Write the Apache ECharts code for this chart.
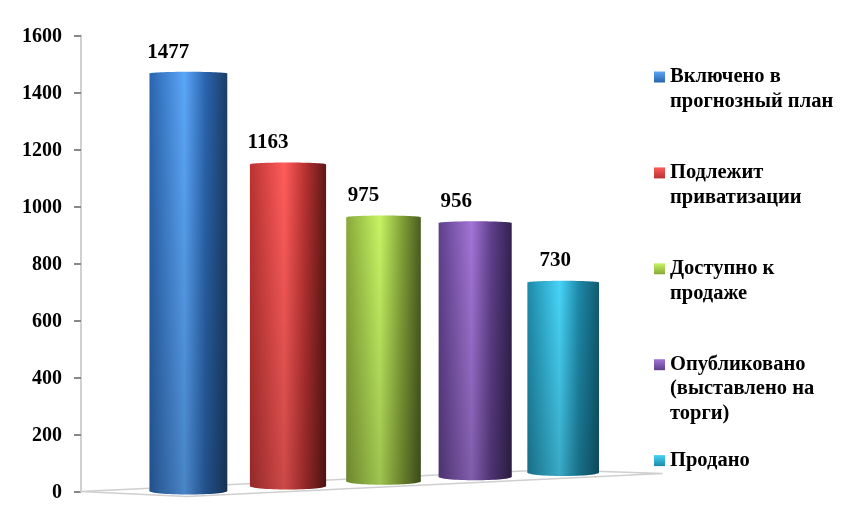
<!DOCTYPE html>
<html>
<head>
<meta charset="utf-8">
<style>
  html, body { margin: 0; padding: 0; background: #fff; }
  #chart { width: 854px; height: 522px; }
</style>
<script src="https://cdn.jsdelivr.net/npm/echarts@6/dist/echarts.min.js"></script>
</head>
<body>
<div id="chart"></div>
<script>
const categories = [
  'Включено в\nпрогнозный план',
  'Подлежит\nприватизации',
  'Доступно к\nпродаже',
  'Опубликовано\n(выставлено на\nторги)',
  'Продано'
]
const values = [1477, 1163, 975, 956, 730]
const yTicks = [0, 200, 400, 600, 800, 1000, 1200, 1400, 1600]

// cylinder shades: left edge, highlight, right edge
const shades = [
  ['#2a64ad', '#5ba6f8', '#1b3d66'],
  ['#b93232', '#ff5c5a', '#5e1716'],
  ['#88a83a', '#c6f463', '#4a5c20'],
  ['#5f3f8b', '#a274d6', '#33224f'],
  ['#1d89a8', '#47d4f8', '#115a70']
]

// the original is a 3D chart, so bars sit deeper as they go right
const vanishX = 358
const vanishY = 256
const perspective = 0.0217
const barDrop = 1.5
const labelShift = [-20, -20, -20, -19, -8]
const font = '"Liberation Serif", "Times New Roman", serif'

function project(api, x, v, depth) {
  const p = api.coord([x, v])
  const s = 1 / (1 + perspective * depth)
  return [vanishX + (p[0] - vanishX) * s, vanishY + (p[1] - vanishY) * s, s]
}

function cylinderFill(c) {
  return {
    type: 'linear', x: 0, y: 0, x2: 1, y2: 0,
    colorStops: [
      { offset: 0, color: c[0] },
      { offset: 0.45, color: c[1] },
      { offset: 0.72, color: c[0] },
      { offset: 1, color: c[2] }
    ]
  }
}

function renderBar(params, api) {
  const i = api.value(0)
  const top = project(api, i, api.value(1), i + 0.4)
  const base = project(api, i, 0, i + 0.4)
  const half = api.size([1, 0])[0] * 0.793 * base[2] / 2
  const topY = top[1] + barDrop
  const baseY = base[1] + barDrop
  const fill = cylinderFill(shades[i])
  const shadow = {
    type: 'linear', x: 0, y: 0, x2: 0, y2: 1,
    colorStops: [
      { offset: 0, color: 'rgba(0,0,0,0)' },
      { offset: 1, color: 'rgba(0,0,0,0.2)' }
    ]
  }
  return {
    type: 'group',
    children: [
      { type: 'ellipse', shape: { cx: base[0], cy: baseY, rx: half, ry: 3.5 }, style: { fill: fill } },
      { type: 'ellipse', shape: { cx: base[0], cy: baseY, rx: half, ry: 3.5 }, style: { fill: 'rgba(0,0,0,0.2)' } },
      { type: 'rect', shape: { x: top[0] - half, y: topY, width: half * 2, height: baseY - topY }, style: { fill: fill } },
      { type: 'rect', shape: { x: top[0] - half, y: topY, width: half * 2, height: baseY - topY }, style: { fill: shadow } },
      { type: 'ellipse', shape: { cx: top[0], cy: topY, rx: half, ry: 1.8 }, style: { fill: fill } },
      {
        type: 'text',
        style: {
          text: String(api.value(1)),
          x: top[0] + labelShift[i],
          y: topY - 21.5,
          align: 'center',
          verticalAlign: 'middle',
          fill: '#000',
          font: 'bold 21px ' + font
        }
      }
    ]
  }
}

function renderFloor(params, api) {
  const corners = [[-1.08, 0], [0.035, -0.95], [5.06, 3.8], [3.87, 4.7]]
  return {
    type: 'polygon',
    shape: { points: corners.map(c => project(api, c[0], 0, c[1]).slice(0, 2)) },
    style: { fill: '#fff', stroke: '#cfcfcf', lineWidth: 1.5 }
  }
}

// keep the swatch level with the first text line: pad the block around it
function legendText(name) {
  const lines = name.split('\n')
  const rows = ['', ''].concat(lines)
  while (rows.length < 5) rows.push('')
  return rows.join('\n')
}

const chart = echarts.init(document.getElementById('chart'))

chart.setOption({
  backgroundColor: '#fff',
  animation: false,
  grid: { left: 81, top: 35.5, width: 578, height: 456 },
  legend: {
    orient: 'vertical',
    left: 654,
    top: 15.75,
    padding: 0,
    itemGap: -26.6,
    itemWidth: 11,
    itemHeight: 11,
    icon: 'rect',
    formatter: legendText,
    textStyle: { color: '#000', fontFamily: font, fontWeight: 'bold', fontSize: 20.5, lineHeight: 24.5 },
    data: categories.map((name, i) => ({
      name: name,
      itemStyle: {
        color: {
          type: 'linear', x: 0, y: 0, x2: 0, y2: 1,
          colorStops: [
            { offset: 0, color: shades[i][1] },
            { offset: 1, color: shades[i][0] }
          ]
        }
      }
    }))
  },
  xAxis: { type: 'value', min: -1.07, max: 4.77, show: false },
  yAxis: {
    type: 'value',
    min: yTicks[0],
    max: yTicks[yTicks.length - 1],
    interval: yTicks[1] - yTicks[0],
    splitLine: { show: false },
    axisLine: { show: true, onZero: false, lineStyle: { color: '#d0d0d0', width: 2 } },
    axisTick: { show: true, length: 7, lineStyle: { color: '#888', width: 2 } },
    // short line box with top alignment nudges the digits just below the tick
    axisLabel: { margin: 19, verticalAlign: 'top', lineHeight: 3, color: '#000', fontFamily: font, fontWeight: 'bold', fontSize: 20, formatter: v => String(v) }
  },
  series: [
    {
      type: 'custom',
      silent: true,
      z: 1,
      renderItem: renderFloor,
      data: [[0, 0]]
    }
  ].concat(categories.map((name, i) => ({
    name: name,
    type: 'custom',
    z: 2,
    renderItem: renderBar,
    encode: { x: 0, y: 1 },
    itemStyle: { color: shades[i][0] },
    data: [[i, values[i]]]
  })))
})
</script>
</body>
</html>
